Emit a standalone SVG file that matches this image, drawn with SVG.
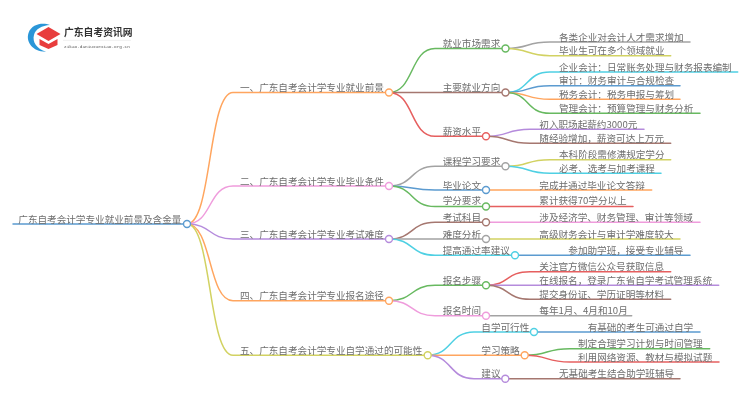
<svg xmlns="http://www.w3.org/2000/svg" width="750" height="410" viewBox="0 0 750 410">
<style>
text{font-family:"Noto Sans CJK SC","Noto Sans",sans-serif;font-size:9.6px;fill:#6e6e6e}
#connectors path{fill:none;stroke-width:1.5;stroke-linecap:round}
circle{fill:#fff;stroke-width:1.4}
.gr{stroke:#67b960}.br{stroke:#a5776f}.re{stroke:#e65f5f}.ga{stroke:#a3a3a3}.ye{stroke:#d2d262}.cy{stroke:#4fd0e3}.bl{stroke:#5b9bd0}.or{stroke:#ffa55e}.pu{stroke:#b58bdc}.pi{stroke:#ef9cdc}
</style>
<defs><filter id="soft" x="0" y="0" width="100%" height="100%" filterUnits="userSpaceOnUse"><feGaussianBlur stdDeviation="0.35"/></filter></defs>
<rect width="750" height="410" fill="#fff"/>
<g filter="url(#soft)">
<g id="logo">
<path d="M50 25C43 22.500 32 23.500 28.500 33C25.500 42 33 52 46 51.700C37 49 32 42 34 35C35.500 29 42 25.500 50 25Z" fill="#2b96d8"/>
<path d="M48.500 27L60.500 34L48.500 41L36.500 34Z" fill="#e83c3c"/>
<path d="M39.500 39L48.500 44L57.500 39V45L48.500 49L39.500 45Z" fill="#e83c3c"/>
<text x="64" y="35.500" style="font-size:9.800px;font-weight:700;fill:#333">广东自考资讯网</text>
<path d="M63 40.300H131" stroke="#e4e4e4" stroke-width=".6" fill="none"/>
<text x="64" y="48" style="font-size:4.400px;fill:#555;font-family:'Liberation Mono',monospace">zikao.daniuxuexiao.org.cn</text>
</g>
<g id="connectors">
<path class="bl" d="M13 224H187"/>
<path class="or" d="M187 224C212 224 208 92.500 233 92.500H389"/>
<path class="pi" d="M187 224C212 224 208 186 233 186H389"/>
<path class="pu" d="M187 224C212 224 208 239 233 239H389"/>
<path class="or" d="M187 224C212 224 208 300.700 233 300.700H389"/>
<path class="ye" d="M187 224C212 224 208 355.300 233 355.300H427.700"/>
<path class="gr" d="M389 92.500C414 92.500 410 48.500 435 48.500H505.500"/>
<path class="br" d="M389 92.500H505.500"/>
<path class="re" d="M389 92.500C414 92.500 410 136.300 435 136.300H486"/>
<path class="ga" d="M389 186C414 186 410 166.300 435 166.300H505.500"/>
<path class="bl" d="M389 186C414 186 410 190 435 190H486"/>
<path class="gr" d="M389 186C414 186 410 206.500 435 206.500H486"/>
<path class="br" d="M389 239C414 239 410 222.300 435 222.300H486"/>
<path class="ga" d="M389 239H486"/>
<path class="cy" d="M389 239C414 239 410 255.300 435 255.300H515"/>
<path class="gr" d="M389 300.700C414 300.700 410 285.300 435 285.300H486"/>
<path class="pi" d="M389 300.700C414 300.700 410 315.700 435 315.700H486"/>
<path class="cy" d="M427.700 355.300C452 355.300 449 332 474 332H534"/>
<path class="or" d="M427.700 355.300H524.700"/>
<path class="pu" d="M427.700 355.300C452 355.300 449 378.700 474 378.700H505.300"/>
<path class="ga" d="M505.500 48.500C530 48.500 525 42 550 42H690"/>
<path class="ye" d="M505.500 48.500C530 48.500 525 55.700 550 55.700H670.700"/>
<path class="cy" d="M505.500 92.500C530 92.500 525 72 550 72H737.700"/>
<path class="bl" d="M505.500 92.500C530 92.500 525 85.700 550 85.700H680"/>
<path class="or" d="M505.500 92.500C530 92.500 525 99.300 550 99.300H680"/>
<path class="gr" d="M505.500 92.500C530 92.500 525 113.300 550 113.300H700"/>
<path class="pu" d="M486 136.300C510 136.300 505 129.300 530 129.300H644"/>
<path class="br" d="M486 136.300C510 136.300 505 143.300 530 143.300H670.700"/>
<path class="ye" d="M505.500 166.300C530 166.300 525 159.700 550 159.700H670.700"/>
<path class="cy" d="M505.500 166.300C530 166.300 525 173.300 550 173.300H661"/>
<path class="or" d="M486 190H651.700"/>
<path class="re" d="M486 206.500H633"/>
<path class="pi" d="M486 222.300H700"/>
<path class="ye" d="M486 239H680"/>
<path class="bl" d="M515 255.300H690"/>
<path class="re" d="M486 285.300C510 285.300 505 271.700 530 271.700H670.700"/>
<path class="pu" d="M486 285.300H718.700"/>
<path class="br" d="M486 285.300C510 285.300 505 299.300 530 299.300H670.700"/>
<path class="ga" d="M486 315.700H631.700"/>
<path class="bl" d="M534 332H700"/>
<path class="gr" d="M524.700 355.300C549 355.300 545 348.700 570 348.700H709.700"/>
<path class="re" d="M524.700 355.300C549 355.300 545 362 570 362H719"/>
<path class="br" d="M505.300 378.700H680"/>
</g>
<g id="root"><text x="18.300" y="223">广东自考会计学专业就业前景及含金量</text><circle class="bl" cx="187" cy="224" r="3.500"/></g>
<g id="s1"><text x="240" y="91">一、广东自考会计学专业就业前景</text><circle class="or" cx="389" cy="92.500" r="3.500"/></g>
<g id="s2"><text x="240" y="185">二、广东自考会计学专业毕业条件</text><circle class="pi" cx="389" cy="186" r="3.500"/></g>
<g id="s3"><text x="240" y="238">三、广东自考会计学专业考试难度</text><circle class="pu" cx="389" cy="239" r="3.500"/></g>
<g id="s4"><text x="240" y="299.400">四、广东自考会计学专业报名途径</text><circle class="or" cx="389" cy="300.700" r="3.500"/></g>
<g id="s5"><text x="240" y="354.300">五、广东自考会计学专业自学通过的可能性</text><circle class="ye" cx="427.700" cy="355.300" r="3.500"/></g>
<g id="n11"><text x="442.700" y="47">就业市场需求</text><circle class="gr" cx="505.500" cy="48.500" r="3.500"/></g>
<g id="n12"><text x="442.700" y="90.800">主要就业方向</text><circle class="br" cx="505.500" cy="92.500" r="3.500"/></g>
<g id="n13"><text x="442.700" y="135">薪资水平</text><circle class="re" cx="486" cy="136.300" r="3.500"/></g>
<g id="n21"><text x="442.700" y="164.800">课程学习要求</text><circle class="ga" cx="505.500" cy="166.300" r="3.500"/></g>
<g id="n22"><text x="442.700" y="188.500">毕业论文</text><circle class="bl" cx="486" cy="190" r="3.500"/></g>
<g id="n23"><text x="442.700" y="204.300">学分要求</text><circle class="gr" cx="486" cy="206.500" r="3.500"/></g>
<g id="n31"><text x="442.700" y="221">考试科目</text><circle class="br" cx="486" cy="222.300" r="3.500"/></g>
<g id="n32"><text x="442.700" y="237.700">难度分析</text><circle class="ga" cx="486" cy="239" r="3.500"/></g>
<g id="n33"><text x="442.700" y="253.800">提高通过率建议</text><circle class="cy" cx="515" cy="255.300" r="3.500"/></g>
<g id="n41"><text x="442.700" y="283.800">报名步骤</text><circle class="gr" cx="486" cy="285.300" r="3.500"/></g>
<g id="n42"><text x="442.700" y="314.200">报名时间</text><circle class="pi" cx="486" cy="315.700" r="3.500"/></g>
<g id="n51"><text x="481.300" y="330.700">自学可行性</text><circle class="cy" cx="534" cy="332" r="3.500"/></g>
<g id="n52"><text x="481.300" y="354">学习策略</text><circle class="or" cx="524.700" cy="355.300" r="3.500"/></g>
<g id="n53"><text x="481.300" y="377.400">建议</text><circle class="pu" cx="505.300" cy="378.700" r="3.500"/></g>
<g id="l1"><text x="559" y="41">各类企业对会计人才需求增加</text></g>
<g id="l2"><text x="559" y="54.200">毕业生可在多个领域就业</text></g>
<g id="l3"><text x="559" y="70.500">企业会计：日常账务处理与财务报表编制</text></g>
<g id="l4"><text x="559" y="84.200">审计：财务审计与合规检查</text></g>
<g id="l5"><text x="559" y="97.800">税务会计：税务申报与筹划</text></g>
<g id="l6"><text x="559" y="111.800">管理会计：预算管理与财务分析</text></g>
<g id="l7"><text x="539.300" y="128.200">初入职场起薪约3000元</text></g>
<g id="l8"><text x="539.300" y="141.800">随经验增加，薪资可达上万元</text></g>
<g id="l9"><text x="559" y="157.800">本科阶段需修满规定学分</text></g>
<g id="l10"><text x="559" y="172.200">必考、选考与加考课程</text></g>
<g id="l11"><text x="539.300" y="188.500">完成并通过毕业论文答辩</text></g>
<g id="l12"><text x="539.300" y="204.300">累计获得70学分以上</text></g>
<g id="l13"><text x="539.300" y="221">涉及经济学、财务管理、审计等领域</text></g>
<g id="l14"><text x="539.300" y="237.700">高级财务会计与审计学难度较大</text></g>
<g id="l15"><text x="568.300" y="254">参加助学班，接受专业辅导</text></g>
<g id="l16"><text x="539.300" y="270">关注官方微信公众号获取信息</text></g>
<g id="l17"><text x="539.300" y="284">在线报名，登录广东省自学考试管理系统</text></g>
<g id="l18"><text x="539.300" y="298">提交身份证、学历证明等材料</text></g>
<g id="l19"><text x="539.300" y="314.200">每年1月、4月和10月</text></g>
<g id="l20"><text x="587.700" y="330.700">有基础的考生可通过自学</text></g>
<g id="l21"><text x="578" y="347">制定合理学习计划与时间管理</text></g>
<g id="l22"><text x="578" y="360.500">利用网络资源、教材与模拟试题</text></g>
<g id="l23"><text x="559" y="377.400">无基础考生结合助学班辅导</text></g>
</g>
</svg>
